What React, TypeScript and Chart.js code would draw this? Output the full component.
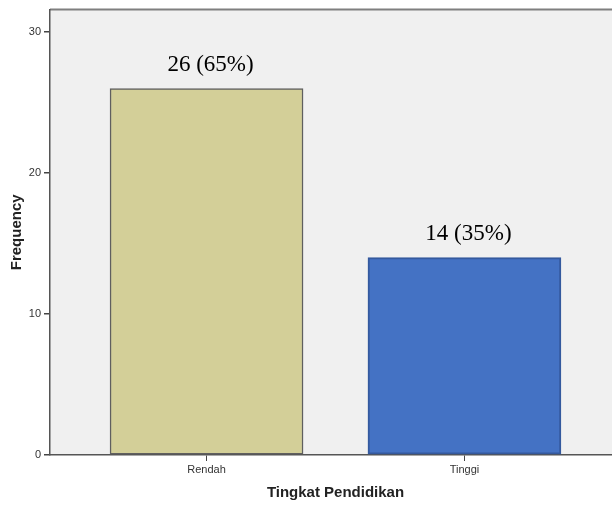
import React, { useEffect, useRef } from "react";
import { Chart, registerables } from "chart.js";

Chart.register(...registerables);

const categories = ["Rendah", "Tinggi"];
const frequencies = [26, 14];
const percents = [65, 35];
const yTicks = [0, 10, 20, 30];
const barColors = ["#D3CF98", "#4472C4"];
const barBorders = ["#5f5f5f", "#34599e"];

const W = 630;
const H = 506;

const bgPlugin = {
  id: "plotBg",
  beforeDraw(chart: any) {
    const { ctx, chartArea } = chart;
    ctx.save();
    ctx.fillStyle = "#F0F0F0";
    ctx.fillRect(chartArea.left, chartArea.top, chartArea.right - chartArea.left, chartArea.bottom - chartArea.top);
    ctx.strokeStyle = "#7f7f7f";
    ctx.lineWidth = 2;
    ctx.beginPath();
    ctx.moveTo(chartArea.left, chartArea.top);
    ctx.lineTo(chartArea.right, chartArea.top);
    ctx.stroke();
    ctx.restore();
  },
};

const labelPlugin = {
  id: "barLabels",
  afterDatasetsDraw(chart: any) {
    const { ctx } = chart;
    const meta = chart.getDatasetMeta(0);
    ctx.save();
    ctx.font = '23px "Liberation Serif", "Times New Roman", serif';
    ctx.fillStyle = "#000";
    ctx.textAlign = "center";
    ctx.textBaseline = "alphabetic";
    meta.data.forEach((bar: any, i: number) => {
      ctx.fillText(`${frequencies[i]} (${percents[i]}%)`, bar.x + 4, bar.y - 18);
    });
    ctx.restore();
  },
};

export default function App() {
  const ref = useRef<HTMLCanvasElement | null>(null);

  useEffect(() => {
    if (!ref.current) return;
    const chart = new Chart(ref.current, {
      type: "bar",
      data: {
        datasets: [
          {
            data: categories.map((_, i) => ({ x: i, y: frequencies[i] })) as any,
            backgroundColor: barColors,
            borderColor: barBorders,
            borderWidth: [1.5, 2] as any,
            barThickness: 193,
            borderSkipped: false,
          },
        ],
      },
      options: {
        responsive: false,
        animation: false,
        devicePixelRatio: 1,
        layout: { padding: { top: 9, right: 9, left: 0, bottom: 0 } },
        plugins: {
          legend: { display: false },
          tooltip: { enabled: false },
        },
        scales: {
          x: {
            type: "linear",
            offset: false,
            min: -0.607,
            max: 1.607,
            afterBuildTicks: (scale: any) => {
              scale.ticks = categories.map((_, i) => ({ value: i }));
            },
            afterFit: (scale: any) => {
              scale.height = 51;
            },
            ticks: {
              callback: (v: any) => categories[v as number] ?? "",
              color: "#333",
              font: { family: '"Liberation Sans", Arial, sans-serif', size: 11 },
              padding: 2,
              maxRotation: 0,
            },
            grid: { offset: false, drawOnChartArea: false, drawTicks: true, tickLength: 6, color: "#444", lineWidth: 1 },
            border: { display: true, color: "#555", width: 1.5 },
            title: {
              display: true,
              text: "Tingkat Pendidikan",
              color: "#222",
              font: { family: '"Liberation Sans", Arial, sans-serif', size: 15, weight: "bold" },
              padding: { top: 0, bottom: 4 },
            },
          },
          y: {
            min: 0,
            max: 31.6,
            afterBuildTicks: (scale: any) => {
              scale.ticks = yTicks.map((v) => ({ value: v }));
            },
            afterFit: (scale: any) => {
              scale.width = 50;
            },
            ticks: {
              color: "#333",
              font: { family: '"Liberation Sans", Arial, sans-serif', size: 11 },
              padding: 3,
            },
            grid: { drawOnChartArea: false, drawTicks: true, tickLength: 6, color: "#444", lineWidth: 1.5 },
            border: { display: true, color: "#555", width: 1.5 },
            title: {
              display: true,
              text: "Frequency",
              color: "#222",
              font: { family: '"Liberation Sans", Arial, sans-serif', size: 15, weight: "bold" },
              padding: { top: 8, bottom: 0 },
            },
          },
        },
      },
      plugins: [bgPlugin, labelPlugin],
    });
    return () => chart.destroy();
  }, []);

  return (
    <div style={{ position: "fixed", left: 0, top: 0, width: 612, height: 506, overflow: "hidden", background: "#fff" }}>
      <canvas ref={ref} width={W} height={H} style={{ display: "block", width: W, height: H }} />
    </div>
  );
}
